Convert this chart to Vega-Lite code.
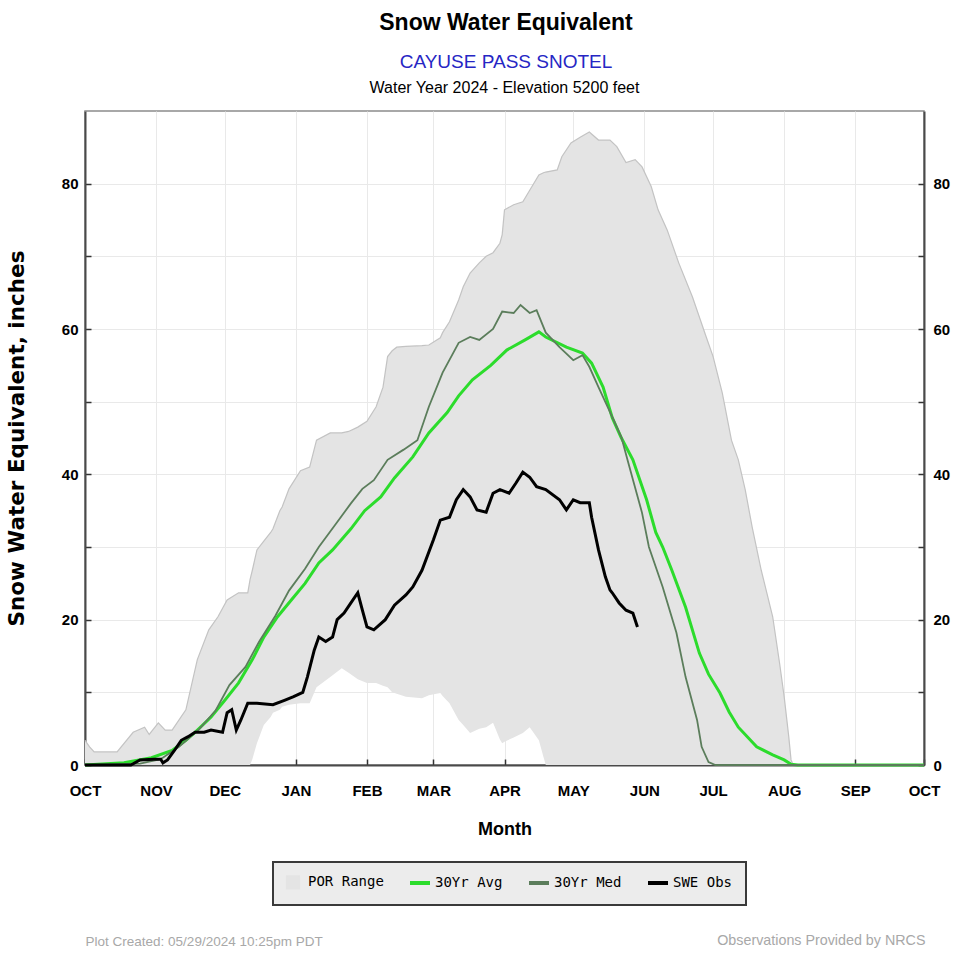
{
  "$schema": "https://vega.github.io/schema/vega-lite/v6.json",
  "background": "white",
  "padding": {"left": 5, "top": 12, "right": 10, "bottom": 10},
  "datasets": {
    "por": [
      {"d": "2023-10-01", "hi": 3.4, "lo": 0}, {"d": "2023-10-03", "hi": 2.5, "lo": 0}, {"d": "2023-10-05", "hi": 1.8, "lo": 0},
      {"d": "2023-10-15", "hi": 1.8, "lo": 0}, {"d": "2023-10-22", "hi": 4.5, "lo": 0}, {"d": "2023-10-27", "hi": 5.2, "lo": 0},
      {"d": "2023-10-29", "hi": 4.2, "lo": 0}, {"d": "2023-11-02", "hi": 5.8, "lo": 0}, {"d": "2023-11-05", "hi": 4.8, "lo": 0},
      {"d": "2023-11-08", "hi": 4.8, "lo": 0}, {"d": "2023-11-14", "hi": 7.6, "lo": 0}, {"d": "2023-11-19", "hi": 14.5, "lo": 0},
      {"d": "2023-11-24", "hi": 18.6, "lo": 0}, {"d": "2023-11-28", "hi": 20.4, "lo": 0}, {"d": "2023-12-02", "hi": 22.7, "lo": 0},
      {"d": "2023-12-07", "hi": 23.7, "lo": 0}, {"d": "2023-12-11", "hi": 23.7, "lo": 0}, {"d": "2023-12-12", "hi": 25.5, "lo": 0},
      {"d": "2023-12-13", "hi": 26.8, "lo": 0.8}, {"d": "2023-12-15", "hi": 29.6, "lo": 3}, {"d": "2023-12-18", "hi": 30.8, "lo": 5.5},
      {"d": "2023-12-21", "hi": 32, "lo": 6.6}, {"d": "2023-12-22", "hi": 32.5, "lo": 7.2}, {"d": "2023-12-25", "hi": 35, "lo": 7.6},
      {"d": "2023-12-26", "hi": 35.5, "lo": 8}, {"d": "2023-12-29", "hi": 38, "lo": 8.3}, {"d": "2024-01-03", "hi": 40.5, "lo": 8.5},
      {"d": "2024-01-07", "hi": 41, "lo": 8.5}, {"d": "2024-01-10", "hi": 44.7, "lo": 10.7}, {"d": "2024-01-16", "hi": 45.7, "lo": 12.1},
      {"d": "2024-01-21", "hi": 45.7, "lo": 13.3}, {"d": "2024-01-24", "hi": 45.9, "lo": 12.7}, {"d": "2024-01-28", "hi": 46.5, "lo": 11.8},
      {"d": "2024-02-01", "hi": 47.3, "lo": 11.3}, {"d": "2024-02-05", "hi": 49.3, "lo": 11.3}, {"d": "2024-02-08", "hi": 52, "lo": 10.9},
      {"d": "2024-02-10", "hi": 56.2, "lo": 10.7}, {"d": "2024-02-12", "hi": 57, "lo": 10}, {"d": "2024-02-14", "hi": 57.5, "lo": 9.8},
      {"d": "2024-02-18", "hi": 57.6, "lo": 9.4}, {"d": "2024-02-25", "hi": 57.7, "lo": 9.2}, {"d": "2024-02-28", "hi": 57.8, "lo": 9.6},
      {"d": "2024-03-04", "hi": 58.8, "lo": 9.9}, {"d": "2024-03-05", "hi": 59.5, "lo": 9.5}, {"d": "2024-03-08", "hi": 61, "lo": 8.5},
      {"d": "2024-03-12", "hi": 64, "lo": 6.2}, {"d": "2024-03-14", "hi": 65.8, "lo": 5.5}, {"d": "2024-03-17", "hi": 67.7, "lo": 4.4},
      {"d": "2024-03-21", "hi": 69.1, "lo": 5}, {"d": "2024-03-24", "hi": 70, "lo": 5.2}, {"d": "2024-03-27", "hi": 70.5, "lo": 5.8},
      {"d": "2024-03-30", "hi": 71.8, "lo": 3.5}, {"d": "2024-03-31", "hi": 73, "lo": 3}, {"d": "2024-04-01", "hi": 76.4, "lo": 3.2},
      {"d": "2024-04-05", "hi": 77.1, "lo": 3.8}, {"d": "2024-04-09", "hi": 77.5, "lo": 4.4}, {"d": "2024-04-12", "hi": 79.1, "lo": 5.2},
      {"d": "2024-04-16", "hi": 81.2, "lo": 3.4}, {"d": "2024-04-18", "hi": 81.5, "lo": 1.1}, {"d": "2024-04-19", "hi": 81.6, "lo": 0},
      {"d": "2024-04-24", "hi": 81.9, "lo": 0}, {"d": "2024-04-26", "hi": 83.7, "lo": 0}, {"d": "2024-04-30", "hi": 85.6, "lo": 0},
      {"d": "2024-05-04", "hi": 86.4, "lo": 0}, {"d": "2024-05-08", "hi": 87.1, "lo": 0}, {"d": "2024-05-12", "hi": 86, "lo": 0},
      {"d": "2024-05-17", "hi": 86, "lo": 0}, {"d": "2024-05-20", "hi": 85.1, "lo": 0}, {"d": "2024-05-24", "hi": 82.9, "lo": 0},
      {"d": "2024-05-28", "hi": 83.3, "lo": 0}, {"d": "2024-05-31", "hi": 82.3, "lo": 0}, {"d": "2024-06-04", "hi": 79.6, "lo": 0},
      {"d": "2024-06-07", "hi": 76.4, "lo": 0}, {"d": "2024-06-11", "hi": 73.6, "lo": 0}, {"d": "2024-06-16", "hi": 69.1, "lo": 0},
      {"d": "2024-06-22", "hi": 64.4, "lo": 0}, {"d": "2024-06-28", "hi": 58.9, "lo": 0}, {"d": "2024-07-01", "hi": 56.2, "lo": 0},
      {"d": "2024-07-05", "hi": 51.2, "lo": 0}, {"d": "2024-07-09", "hi": 44.7, "lo": 0}, {"d": "2024-07-12", "hi": 42, "lo": 0},
      {"d": "2024-07-15", "hi": 37.9, "lo": 0}, {"d": "2024-07-18", "hi": 32.8, "lo": 0}, {"d": "2024-07-22", "hi": 26.8, "lo": 0},
      {"d": "2024-07-27", "hi": 20.4, "lo": 0}, {"d": "2024-07-30", "hi": 14, "lo": 0}, {"d": "2024-08-01", "hi": 9.4, "lo": 0},
      {"d": "2024-08-03", "hi": 3.9, "lo": 0}, {"d": "2024-08-04", "hi": 0.7, "lo": 0}, {"d": "2024-08-05", "hi": 0, "lo": 0}
    ],
    "lines": [
      {"d": "2023-10-01", "s": "30Yr Avg", "v": 0}, {"d": "2023-10-18", "s": "30Yr Avg", "v": 0.3}, {"d": "2023-10-30", "s": "30Yr Avg", "v": 1},
      {"d": "2023-11-08", "s": "30Yr Avg", "v": 2}, {"d": "2023-11-14", "s": "30Yr Avg", "v": 3.4}, {"d": "2023-11-18", "s": "30Yr Avg", "v": 4.5},
      {"d": "2023-11-25", "s": "30Yr Avg", "v": 6.6}, {"d": "2023-12-01", "s": "30Yr Avg", "v": 8.9}, {"d": "2023-12-07", "s": "30Yr Avg", "v": 11.3},
      {"d": "2023-12-13", "s": "30Yr Avg", "v": 14.5}, {"d": "2023-12-18", "s": "30Yr Avg", "v": 17.6}, {"d": "2023-12-24", "s": "30Yr Avg", "v": 20.4},
      {"d": "2023-12-30", "s": "30Yr Avg", "v": 22.7}, {"d": "2024-01-05", "s": "30Yr Avg", "v": 25}, {"d": "2024-01-11", "s": "30Yr Avg", "v": 27.8},
      {"d": "2024-01-17", "s": "30Yr Avg", "v": 29.6}, {"d": "2024-01-25", "s": "30Yr Avg", "v": 32.5}, {"d": "2024-01-31", "s": "30Yr Avg", "v": 35},
      {"d": "2024-02-07", "s": "30Yr Avg", "v": 36.9}, {"d": "2024-02-13", "s": "30Yr Avg", "v": 39.5}, {"d": "2024-02-21", "s": "30Yr Avg", "v": 42.4},
      {"d": "2024-02-28", "s": "30Yr Avg", "v": 45.7}, {"d": "2024-03-07", "s": "30Yr Avg", "v": 48.5}, {"d": "2024-03-12", "s": "30Yr Avg", "v": 50.8},
      {"d": "2024-03-18", "s": "30Yr Avg", "v": 53}, {"d": "2024-03-26", "s": "30Yr Avg", "v": 55}, {"d": "2024-04-02", "s": "30Yr Avg", "v": 57.1},
      {"d": "2024-04-10", "s": "30Yr Avg", "v": 58.5}, {"d": "2024-04-16", "s": "30Yr Avg", "v": 59.6}, {"d": "2024-04-19", "s": "30Yr Avg", "v": 58.9},
      {"d": "2024-04-28", "s": "30Yr Avg", "v": 57.5}, {"d": "2024-05-05", "s": "30Yr Avg", "v": 56.7}, {"d": "2024-05-09", "s": "30Yr Avg", "v": 55.3},
      {"d": "2024-05-14", "s": "30Yr Avg", "v": 52}, {"d": "2024-05-18", "s": "30Yr Avg", "v": 47.8}, {"d": "2024-05-22", "s": "30Yr Avg", "v": 45},
      {"d": "2024-05-27", "s": "30Yr Avg", "v": 42}, {"d": "2024-06-02", "s": "30Yr Avg", "v": 36.5}, {"d": "2024-06-06", "s": "30Yr Avg", "v": 32},
      {"d": "2024-06-09", "s": "30Yr Avg", "v": 30}, {"d": "2024-06-13", "s": "30Yr Avg", "v": 26.8}, {"d": "2024-06-19", "s": "30Yr Avg", "v": 21.7},
      {"d": "2024-06-25", "s": "30Yr Avg", "v": 15.4}, {"d": "2024-06-29", "s": "30Yr Avg", "v": 12.5}, {"d": "2024-07-04", "s": "30Yr Avg", "v": 9.9},
      {"d": "2024-07-08", "s": "30Yr Avg", "v": 7.3}, {"d": "2024-07-12", "s": "30Yr Avg", "v": 5.2}, {"d": "2024-07-20", "s": "30Yr Avg", "v": 2.5},
      {"d": "2024-07-27", "s": "30Yr Avg", "v": 1.4}, {"d": "2024-08-01", "s": "30Yr Avg", "v": 0.7}, {"d": "2024-08-04", "s": "30Yr Avg", "v": 0.1},
      {"d": "2024-08-07", "s": "30Yr Avg", "v": 0}, {"d": "2024-10-01", "s": "30Yr Avg", "v": 0},

      {"d": "2023-10-01", "s": "30Yr Med", "v": 0}, {"d": "2023-10-25", "s": "30Yr Med", "v": 0.2}, {"d": "2023-11-03", "s": "30Yr Med", "v": 0.8},
      {"d": "2023-11-11", "s": "30Yr Med", "v": 2.5}, {"d": "2023-11-20", "s": "30Yr Med", "v": 5}, {"d": "2023-11-27", "s": "30Yr Med", "v": 7.5},
      {"d": "2023-12-03", "s": "30Yr Med", "v": 11}, {"d": "2023-12-10", "s": "30Yr Med", "v": 13.5}, {"d": "2023-12-16", "s": "30Yr Med", "v": 17},
      {"d": "2023-12-23", "s": "30Yr Med", "v": 20.5}, {"d": "2023-12-29", "s": "30Yr Med", "v": 24}, {"d": "2024-01-05", "s": "30Yr Med", "v": 27},
      {"d": "2024-01-11", "s": "30Yr Med", "v": 30}, {"d": "2024-01-18", "s": "30Yr Med", "v": 33}, {"d": "2024-01-25", "s": "30Yr Med", "v": 36},
      {"d": "2024-01-30", "s": "30Yr Med", "v": 38}, {"d": "2024-02-04", "s": "30Yr Med", "v": 39.2}, {"d": "2024-02-10", "s": "30Yr Med", "v": 42},
      {"d": "2024-02-17", "s": "30Yr Med", "v": 43.4}, {"d": "2024-02-23", "s": "30Yr Med", "v": 44.7}, {"d": "2024-02-28", "s": "30Yr Med", "v": 49.3},
      {"d": "2024-03-05", "s": "30Yr Med", "v": 54}, {"d": "2024-03-12", "s": "30Yr Med", "v": 58.1}, {"d": "2024-03-17", "s": "30Yr Med", "v": 58.9},
      {"d": "2024-03-21", "s": "30Yr Med", "v": 58.5}, {"d": "2024-03-27", "s": "30Yr Med", "v": 60}, {"d": "2024-03-31", "s": "30Yr Med", "v": 62.4},
      {"d": "2024-04-05", "s": "30Yr Med", "v": 62.2}, {"d": "2024-04-08", "s": "30Yr Med", "v": 63.3}, {"d": "2024-04-12", "s": "30Yr Med", "v": 62.2},
      {"d": "2024-04-15", "s": "30Yr Med", "v": 62.6}, {"d": "2024-04-19", "s": "30Yr Med", "v": 59.5}, {"d": "2024-04-25", "s": "30Yr Med", "v": 57.5},
      {"d": "2024-05-01", "s": "30Yr Med", "v": 55.7}, {"d": "2024-05-05", "s": "30Yr Med", "v": 56.4}, {"d": "2024-05-08", "s": "30Yr Med", "v": 54.8},
      {"d": "2024-05-12", "s": "30Yr Med", "v": 52}, {"d": "2024-05-18", "s": "30Yr Med", "v": 47.9}, {"d": "2024-05-22", "s": "30Yr Med", "v": 45.1},
      {"d": "2024-05-25", "s": "30Yr Med", "v": 41.6}, {"d": "2024-05-31", "s": "30Yr Med", "v": 34.7}, {"d": "2024-06-03", "s": "30Yr Med", "v": 30},
      {"d": "2024-06-09", "s": "30Yr Med", "v": 24.5}, {"d": "2024-06-15", "s": "30Yr Med", "v": 18.2}, {"d": "2024-06-19", "s": "30Yr Med", "v": 12.1},
      {"d": "2024-06-24", "s": "30Yr Med", "v": 6.2}, {"d": "2024-06-26", "s": "30Yr Med", "v": 2.5}, {"d": "2024-06-29", "s": "30Yr Med", "v": 0.4},
      {"d": "2024-07-02", "s": "30Yr Med", "v": 0}, {"d": "2024-10-01", "s": "30Yr Med", "v": 0},

      {"d": "2023-10-01", "s": "SWE Obs", "v": 0}, {"d": "2023-10-21", "s": "SWE Obs", "v": 0}, {"d": "2023-10-25", "s": "SWE Obs", "v": 0.7},
      {"d": "2023-10-31", "s": "SWE Obs", "v": 0.8}, {"d": "2023-11-03", "s": "SWE Obs", "v": 0.8}, {"d": "2023-11-04", "s": "SWE Obs", "v": 0.3},
      {"d": "2023-11-06", "s": "SWE Obs", "v": 0.7}, {"d": "2023-11-09", "s": "SWE Obs", "v": 2}, {"d": "2023-11-12", "s": "SWE Obs", "v": 3.4},
      {"d": "2023-11-15", "s": "SWE Obs", "v": 3.9}, {"d": "2023-11-18", "s": "SWE Obs", "v": 4.5}, {"d": "2023-11-22", "s": "SWE Obs", "v": 4.5},
      {"d": "2023-11-25", "s": "SWE Obs", "v": 4.8}, {"d": "2023-11-30", "s": "SWE Obs", "v": 4.5}, {"d": "2023-12-02", "s": "SWE Obs", "v": 7.2},
      {"d": "2023-12-04", "s": "SWE Obs", "v": 7.6}, {"d": "2023-12-06", "s": "SWE Obs", "v": 4.8}, {"d": "2023-12-08", "s": "SWE Obs", "v": 6.2},
      {"d": "2023-12-11", "s": "SWE Obs", "v": 8.5}, {"d": "2023-12-15", "s": "SWE Obs", "v": 8.5}, {"d": "2023-12-22", "s": "SWE Obs", "v": 8.3},
      {"d": "2023-12-27", "s": "SWE Obs", "v": 8.9}, {"d": "2023-12-31", "s": "SWE Obs", "v": 9.4}, {"d": "2024-01-04", "s": "SWE Obs", "v": 10},
      {"d": "2024-01-06", "s": "SWE Obs", "v": 12.1}, {"d": "2024-01-09", "s": "SWE Obs", "v": 15.8}, {"d": "2024-01-11", "s": "SWE Obs", "v": 17.6},
      {"d": "2024-01-14", "s": "SWE Obs", "v": 17}, {"d": "2024-01-17", "s": "SWE Obs", "v": 17.6}, {"d": "2024-01-19", "s": "SWE Obs", "v": 20},
      {"d": "2024-01-22", "s": "SWE Obs", "v": 20.9}, {"d": "2024-01-25", "s": "SWE Obs", "v": 22.3}, {"d": "2024-01-28", "s": "SWE Obs", "v": 23.7},
      {"d": "2024-01-30", "s": "SWE Obs", "v": 21.3}, {"d": "2024-02-01", "s": "SWE Obs", "v": 19}, {"d": "2024-02-04", "s": "SWE Obs", "v": 18.6},
      {"d": "2024-02-09", "s": "SWE Obs", "v": 20}, {"d": "2024-02-13", "s": "SWE Obs", "v": 22}, {"d": "2024-02-18", "s": "SWE Obs", "v": 23.4},
      {"d": "2024-02-21", "s": "SWE Obs", "v": 24.5}, {"d": "2024-02-25", "s": "SWE Obs", "v": 26.8}, {"d": "2024-03-01", "s": "SWE Obs", "v": 31},
      {"d": "2024-03-04", "s": "SWE Obs", "v": 33.7}, {"d": "2024-03-08", "s": "SWE Obs", "v": 34.1}, {"d": "2024-03-11", "s": "SWE Obs", "v": 36.5},
      {"d": "2024-03-14", "s": "SWE Obs", "v": 37.9}, {"d": "2024-03-17", "s": "SWE Obs", "v": 36.9}, {"d": "2024-03-20", "s": "SWE Obs", "v": 35.1},
      {"d": "2024-03-24", "s": "SWE Obs", "v": 34.8}, {"d": "2024-03-27", "s": "SWE Obs", "v": 37.4}, {"d": "2024-03-30", "s": "SWE Obs", "v": 37.9},
      {"d": "2024-04-03", "s": "SWE Obs", "v": 37.4}, {"d": "2024-04-06", "s": "SWE Obs", "v": 38.8}, {"d": "2024-04-09", "s": "SWE Obs", "v": 40.3},
      {"d": "2024-04-12", "s": "SWE Obs", "v": 39.6}, {"d": "2024-04-15", "s": "SWE Obs", "v": 38.3}, {"d": "2024-04-19", "s": "SWE Obs", "v": 37.9},
      {"d": "2024-04-25", "s": "SWE Obs", "v": 36.5}, {"d": "2024-04-28", "s": "SWE Obs", "v": 35.1}, {"d": "2024-05-01", "s": "SWE Obs", "v": 36.5},
      {"d": "2024-05-04", "s": "SWE Obs", "v": 36.1}, {"d": "2024-05-08", "s": "SWE Obs", "v": 36.1}, {"d": "2024-05-09", "s": "SWE Obs", "v": 34.1},
      {"d": "2024-05-12", "s": "SWE Obs", "v": 29.6}, {"d": "2024-05-15", "s": "SWE Obs", "v": 25.9}, {"d": "2024-05-17", "s": "SWE Obs", "v": 24.1},
      {"d": "2024-05-18", "s": "SWE Obs", "v": 23.7}, {"d": "2024-05-21", "s": "SWE Obs", "v": 22.3}, {"d": "2024-05-24", "s": "SWE Obs", "v": 21.3},
      {"d": "2024-05-27", "s": "SWE Obs", "v": 20.9}, {"d": "2024-05-29", "s": "SWE Obs", "v": 19}
    ]
  },
  "title": {
    "text": "Snow Water Equivalent",
    "subtitle": "CAYUSE PASS SNOTEL",
    "anchor": "middle",
    "dx": 28,
    "font": "Liberation Sans, Arial, sans-serif",
    "fontSize": 23,
    "fontWeight": "bold",
    "color": "#000000",
    "subtitleFont": "Liberation Sans, Arial, sans-serif",
    "subtitleFontSize": 19,
    "subtitleColor": "#2626c4",
    "subtitlePadding": 18,
    "offset": 7
  },
  "config": {
    "view": {"stroke": "#8c8c8c", "strokeWidth": 1.5},
    "concat": {"spacing": 0},
    "axis": {
      "labelFont": "Liberation Sans, Arial, sans-serif",
      "labelFontWeight": "bold",
      "labelFontSize": 15,
      "labelColor": "#000000",
      "domainColor": "#4a4a4a",
      "domainWidth": 2,
      "tickColor": "#333333",
      "tickWidth": 1.5,
      "tickSize": -6,
      "gridColor": "#e9e9e9",
      "gridWidth": 1
    }
  },
  "vconcat": [{
    "title": {
      "text": "Observations Provided by NRCS",
      "orient": "bottom",
      "anchor": "end",
      "dx": -25,
      "offset": -14,
      "font": "Liberation Sans, Arial, sans-serif",
      "fontSize": 14.3,
      "fontWeight": "normal",
      "color": "#a8a8a8"
    },
    "vconcat": [{
      "title": {
        "text": "Plot Created: 05/29/2024 10:25pm PDT",
        "orient": "bottom",
        "anchor": "start",
        "dx": 80,
        "offset": 96,
        "font": "Liberation Sans, Arial, sans-serif",
        "fontSize": 13.5,
        "fontWeight": "normal",
        "color": "#a8a8a8"
      },
      "vconcat": [{
        "width": 839,
        "height": 654,
        "title": {
          "text": "Water Year 2024 -  Elevation 5200 feet",
          "anchor": "middle",
          "frame": "group",
          "offset": 15,
          "font": "Liberation Sans, Arial, sans-serif",
          "fontSize": 16,
          "fontWeight": "normal",
          "color": "#000000"
        },
        "resolve": {"axis": {"y": "independent"}},
        "layer": [
          {
            "data": {"name": "por"},
            "mark": {"type": "area"},
            "encoding": {
              "x": {
                "field": "d", "type": "temporal",
                "scale": {"type": "utc", "domain": [{"year": 2023, "month": 10, "date": 1, "utc": true}, {"year": 2024, "month": 10, "date": 1, "utc": true}]},
                "axis": {
                  "tickCount": {"interval": "month", "step": 1},
                  "labelExpr": "upper(utcFormat(datum.value, '%b'))",
                  "labelFlush": false, "labelOverlap": false, "labelBound": false,
                  "labelPadding": 24,
                  "title": "Month",
                  "titleFont": "Liberation Sans, Arial, sans-serif",
                  "titleFontSize": 18, "titleFontWeight": "bold", "titleColor": "#000000",
                  "titlePadding": 22,
                  "grid": true
                }
              },
              "y": {
                "field": "hi", "type": "quantitative",
                "scale": {"domain": [0, 90], "nice": false},
                "axis": {
                  "values": [0, 10, 20, 30, 40, 50, 60, 70, 80],
                  "labelExpr": "datum.value % 20 === 0 ? datum.label : ''",
                  "labelPadding": 13,
                  "title": "Snow Water Equivalent, inches",
                  "titleFont": "DejaVu Sans",
                  "titleFontSize": 21.5, "titleFontWeight": "bold", "titleColor": "#000000",
                  "titlePadding": 33,
                  "grid": true
                }
              },
              "y2": {"field": "lo"},
              "color": {
                "datum": "POR Range", "type": "nominal", "title": null,
                "scale": {"domain": ["POR Range", "30Yr Avg", "30Yr Med", "SWE Obs"], "range": ["#e4e4e4", "#2cdc2c", "#5b7d5b", "#000000"]},
                "legend": {
                  "orient": "none", "legendX": 188, "legendY": 751, "direction": "horizontal", "title": null,
                  "labelFont": "DejaVu Sans Mono", "labelFontSize": 14, "labelColor": "#000000",
                  "labelOffset": 8, "columnPadding": 18, "padding": 13,
                  "strokeColor": "#3a3a3a", "fillColor": "#ececec",
                  "symbolStrokeWidth": 4,
                  "encode": {
                    "legend": {"update": {"strokeWidth": {"value": 2}}},
                    "symbols": {
                      "update": {
                        "shape": {"signal": "datum.value === 'POR Range' ? 'square' : 'stroke'"},
                        "size": {"signal": "datum.value === 'POR Range' ? 160 : 400"},
                        "fill": {"signal": "datum.value === 'POR Range' ? '#fafafa' : 'transparent'"},
                        "stroke": {"signal": "datum.value === 'POR Range' ? '#333333' : scale('color', datum.value)"},
                        "strokeWidth": {"signal": "datum.value === 'POR Range' ? 1.5 : 4"}
                      }
                    }
                  }
                }
              }
            }
          },
          {
            "data": {"name": "por"},
            "mark": {"type": "line", "color": "#c3c3c3", "strokeWidth": 1.2},
            "encoding": {
              "x": {"field": "d", "type": "temporal"},
              "y": {
                "field": "hi", "type": "quantitative",
                "axis": {
                  "orient": "right",
                  "values": [0, 10, 20, 30, 40, 50, 60, 70, 80],
                  "labelExpr": "datum.value % 20 === 0 ? datum.label : ''",
                  "labelPadding": 15,
                  "title": null,
                  "grid": false
                }
              }
            }
          },
          {
            "data": {"name": "lines"},
            "transform": [{"filter": "datum.s === '30Yr Avg'"}],
            "mark": {"type": "line", "strokeWidth": 3},
            "encoding": {
              "x": {"field": "d", "type": "temporal"},
              "y": {"field": "v", "type": "quantitative", "axis": null},
              "color": {"field": "s", "type": "nominal", "title": null}
            }
          },
          {
            "data": {"name": "lines"},
            "transform": [{"filter": "datum.s === '30Yr Med'"}],
            "mark": {"type": "line", "strokeWidth": 1.8},
            "encoding": {
              "x": {"field": "d", "type": "temporal"},
              "y": {"field": "v", "type": "quantitative", "axis": null},
              "color": {"field": "s", "type": "nominal", "title": null}
            }
          },
          {
            "data": {"name": "lines"},
            "transform": [{"filter": "datum.s === 'SWE Obs'"}],
            "mark": {"type": "line", "strokeWidth": 3},
            "encoding": {
              "x": {"field": "d", "type": "temporal"},
              "y": {"field": "v", "type": "quantitative", "axis": null},
              "color": {"field": "s", "type": "nominal", "title": null}
            }
          }
        ]
      }]
    }]
  }]
}
